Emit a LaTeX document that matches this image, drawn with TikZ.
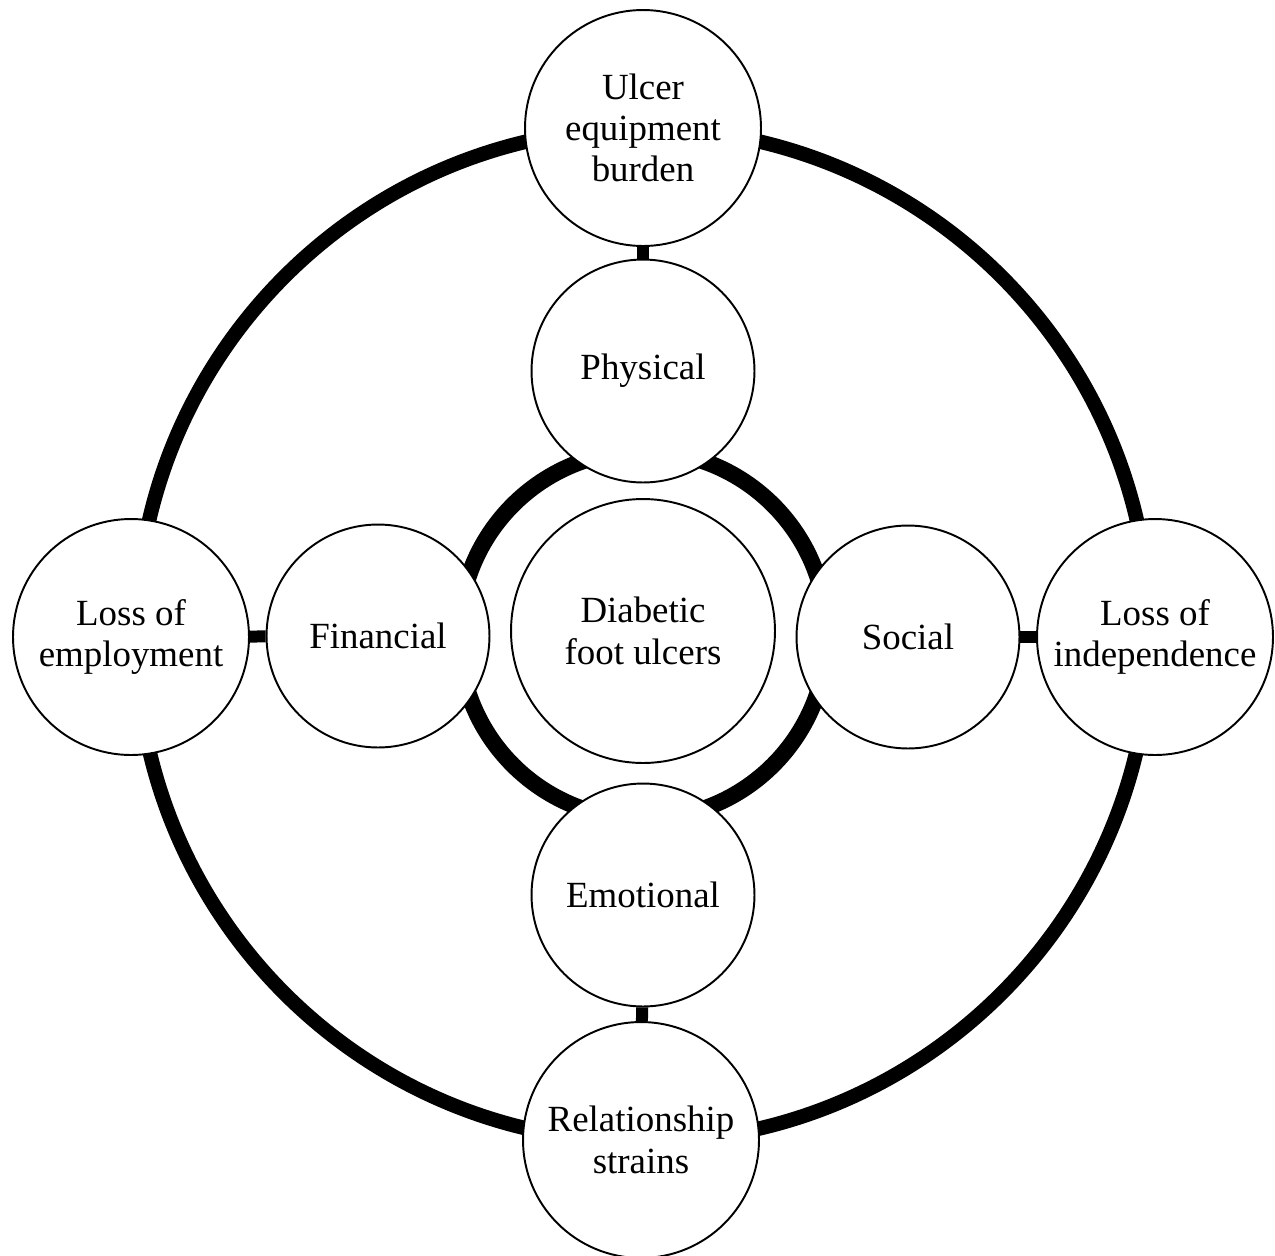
\documentclass[tikz,border=0pt]{standalone}
\usepackage{fontspec}
\setmainfont{Liberation Serif}
\begin{document}
\begin{tikzpicture}[x=0.02cm,y=-0.02cm,
  bubble/.style={circle,draw=black,line width=1.1pt,fill=white,inner sep=0pt,align=center,
    font=\fontsize{21pt}{23.5pt}\selectfont},
  outerb/.style={bubble,minimum size=4.72cm},
  midb/.style={bubble,minimum size=4.46cm},
  coreb/.style={bubble,minimum size=5.28cm},
  ring/.style={draw=black,line width=0.29cm},
  innerring/.style={draw=black,line width=0.33cm},
  link/.style={draw=black,line width=0.24cm}]
\useasboundingbox (0,0) rectangle (1275,1255);
\coordinate (c) at (643,635);
\draw[ring] (c) circle[radius=10.14cm];
\draw[innerring] (c) circle[radius=3.68cm];
\node[outerb] (ulcer) at (643,128) {Ulcer\\equipment\\burden};
\node[midb] (phys) at (643,371) {Physical};
\node[coreb] (dfu) at (643,631) {Diabetic\\foot ulcers};
\node[midb] (emo) at (643,895) {Emotional};
\node[outerb] (rel) at (641,1140) {Relationship\\strains};
\node[outerb] (emp) at (131,637) {Loss of\\employment};
\node[midb] (fin) at (378,636) {Financial};
\node[midb] (soc) at (908,637) {Social};
\node[outerb] (ind) at (1155,637) {Loss of\\independence};
\draw[link] (ulcer) -- (phys);
\draw[link] (emo) -- (rel);
\draw[link] (emp) -- (fin);
\draw[link] (soc) -- (ind);
\end{tikzpicture}
\end{document}
